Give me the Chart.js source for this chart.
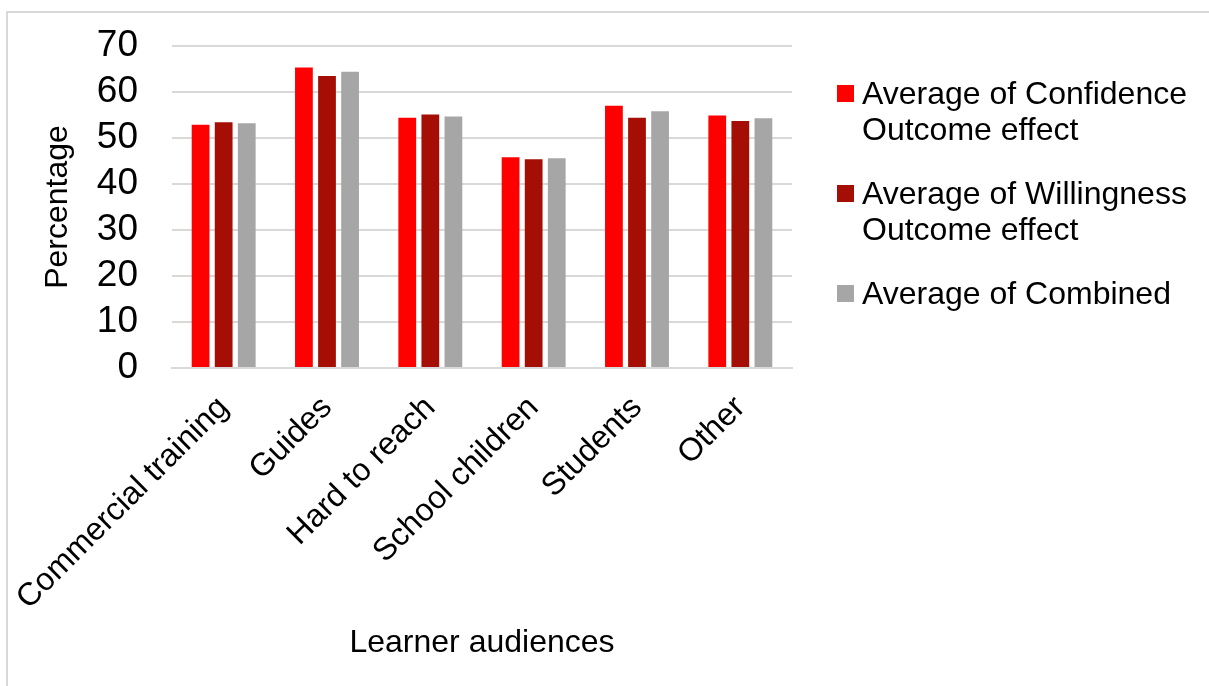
<!DOCTYPE html>
<html>
<head>
<meta charset="utf-8">
<title>Learner audiences</title>
<script src="https://cdn.jsdelivr.net/npm/chart.js@4"></script>
<style>
  html, body { margin: 0; padding: 0; background: #fff; overflow: hidden; }
  #frame { position: absolute; left: 6px; top: 11px; width: 1400px; height: 900px; border: 2px solid #d9d9d9; }
  #wrap { position: absolute; left: 0; top: 0; width: 1209px; height: 686px; }
</style>
</head>
<body>
<div id="frame"></div>
<div id="wrap"><canvas id="grafico" width="1209" height="686"></canvas></div>
<script>
// categorias e médias por público
const categories = ['Commercial training', 'Guides', 'Hard to reach', 'School children', 'Students', 'Other'];
const confidence = [52.9, 65.3, 54.4, 45.8, 57.0, 54.9];
const willingness = [53.4, 63.5, 55.1, 45.4, 54.4, 53.7];
const combined = [53.2, 64.4, 54.7, 45.6, 55.8, 54.3];
const seriesNames = ['Average of Confidence Outcome effect', 'Average of Willingness Outcome effect', 'Average of Combined'];
const yTicks = [0, 10, 20, 30, 40, 50, 60, 70];

const FONT = '"Liberation Sans", Arial, sans-serif';
const GRID = '#d9d9d9';

// quebra o texto da legenda em linhas que cabem na largura
function quebrarTexto(ctx, texto, largura) {
    const palavras = texto.split(' ');
    const linhas = [];
    let atual = '';
    palavras.forEach(p => {
        const teste = atual ? atual + ' ' + p : p;
        if (ctx.measureText(teste).width > largura && atual) {
            linhas.push(atual);
            atual = p;
        } else {
            atual = teste;
        }
    });
    if (atual) linhas.push(atual);
    return linhas;
}

// legenda à direita, com rótulos em várias linhas
const legendaLateral = {
    id: 'legendaLateral',
    afterDraw(chart) {
        const ctx = chart.ctx;
        const boxX = 837, box = 17, textX = 862, lineH = 36, gap = 28;
        let baseline = 104;
        ctx.save();
        ctx.font = '32px ' + FONT;
        ctx.textBaseline = 'alphabetic';
        ctx.textAlign = 'left';
        chart.data.datasets.forEach(ds => {
            const linhas = quebrarTexto(ctx, ds.label, 340);
            ctx.fillStyle = ds.backgroundColor;
            ctx.fillRect(boxX, baseline - 19, box, box);
            ctx.fillStyle = '#000';
            linhas.forEach((l, i) => ctx.fillText(l, textX, baseline + i * lineH));
            baseline += linhas.length * lineH + gap;
        });
        ctx.restore();
    }
};

const cores = ['#ff0000', '#a50e04', '#a6a6a6'];
const valores = [confidence, willingness, combined];

new Chart(document.getElementById('grafico'), {
    type: 'bar',
    data: {
        labels: categories,
        datasets: valores.map((v, i) => ({
            label: seriesNames[i],
            data: v,
            backgroundColor: cores[i],
            borderWidth: 0,
            categoryPercentage: 0.67,
            barPercentage: 0.77
        }))
    },
    options: {
        responsive: false,
        animation: false,
        layout: { padding: { top: 46, right: 417, bottom: 0, left: 0 } },
        plugins: {
            legend: { display: false },
            tooltip: { enabled: false }
        },
        scales: {
            x: {
                grid: { display: false },
                border: { color: GRID, width: 2 },
                ticks: {
                    color: '#000',
                    font: { family: FONT, size: 32 },
                    maxRotation: 45,
                    minRotation: 45,
                    autoSkip: false,
                    padding: 13
                },
                title: {
                    display: true,
                    text: 'Learner audiences',
                    color: '#000',
                    font: { family: FONT, size: 32 },
                    padding: { top: 0, bottom: 24 }
                },
                afterFit: s => {
                    s.height = 686 - 368;
                    s.paddingLeft = 0;
                    s.paddingRight = 0;
                }
            },
            y: {
                min: yTicks[0],
                max: yTicks[yTicks.length - 1],
                grid: { color: GRID, lineWidth: 2, drawTicks: false },
                border: { display: false },
                ticks: {
                    stepSize: yTicks[1] - yTicks[0],
                    autoSkip: false,
                    color: '#000',
                    font: { family: FONT, size: 37 },
                    padding: 34
                },
                title: {
                    display: true,
                    text: 'Percentage',
                    color: '#000',
                    font: { family: FONT, size: 32 },
                    padding: { top: 39, bottom: 0 }
                },
                afterFit: s => {
                    s.width = 172;
                    s.paddingTop = 0;
                    s.paddingBottom = 0;
                }
            }
        }
    },
    plugins: [legendaLateral]
});
</script>
</body>
</html>
